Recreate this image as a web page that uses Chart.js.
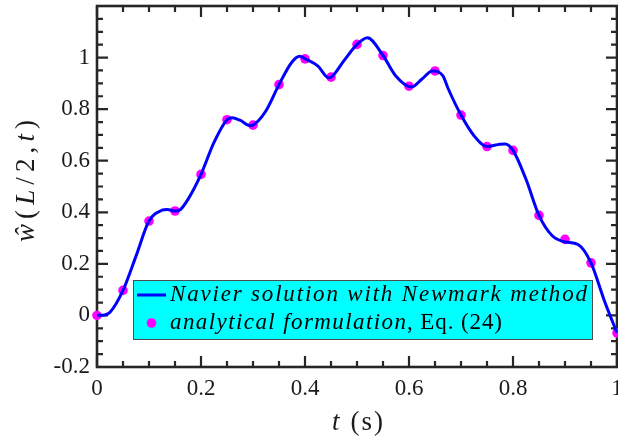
<!DOCTYPE html>
<html>
<head>
<meta charset="utf-8">
<script src="https://cdn.jsdelivr.net/npm/chart.js@4.4.0/dist/chart.umd.min.js"></script>
<style>
	html, body { margin: 0; padding: 0; background: #fff; }
</style>
</head>
<body>
<canvas id="myChart" width="618" height="441"></canvas>
<script>
// Navier solution (blue line)
const lineT = [0, 0.015, 0.025, 0.05, 0.075, 0.1, 0.125, 0.135, 0.15, 0.16, 0.175, 0.2, 0.225, 0.25, 0.26, 0.275, 0.295, 0.3,
	0.325, 0.35, 0.375, 0.39, 0.4, 0.425, 0.445, 0.45, 0.475, 0.5, 0.52, 0.55, 0.575, 0.605, 0.625, 0.645, 0.665, 0.675,
	0.7, 0.725, 0.75, 0.775, 0.785, 0.8, 0.825, 0.85, 0.875, 0.9, 0.925, 0.95, 0.975, 1]
const lineW = [0, 0.002, 0.012, 0.097, 0.23, 0.366, 0.408, 0.411, 0.405, 0.41, 0.45, 0.547, 0.671, 0.759, 0.767, 0.757, 0.736, 0.738,
	0.794, 0.895, 0.983, 1.005, 0.995, 0.967, 0.922, 0.924, 0.988, 1.051, 1.077, 1.008, 0.928, 0.886, 0.917, 0.948, 0.93, 0.881,
	0.777, 0.697, 0.655, 0.664, 0.665, 0.64, 0.528, 0.388, 0.31, 0.285, 0.275, 0.204, 0.061, -0.068]

// analytical formulation (magenta dots)
const pointT = [0, 0.05, 0.1, 0.15, 0.2, 0.25, 0.3, 0.35, 0.4, 0.45, 0.5, 0.55, 0.6, 0.65, 0.7, 0.75, 0.8, 0.85, 0.9, 0.95, 1]
const pointW = [0, 0.097, 0.366, 0.405, 0.547, 0.759, 0.738, 0.895, 0.995, 0.924, 1.051, 1.008, 0.889, 0.948, 0.777, 0.655, 0.64,
	0.388, 0.295, 0.204, -0.068]

const xTickVals = [0, 0.2, 0.4, 0.6, 0.8, 1]
const yTickVals = [-0.2, 0, 0.2, 0.4, 0.6, 0.8, 1]
const seriesLabels = ['Navier solution with Newmark method', 'analytical formulation, Eq. (24)']

const axisColor = '#262626'
const serif = "'Liberation Serif', serif"

const canvas = document.getElementById('myChart')

// draw italic / roman pieces char by char, spread to a given width, starting at x
function drawRich(ctx, parts, x, y, size, width) {
	const chars = []
	parts.forEach((p) => {
		const font = (p.it ? 'italic ' : '') + size + 'px ' + serif
		ctx.font = font
		for (const ch of p.t) chars.push({ ch, font, w: ctx.measureText(ch).width })
	})
	const natural = chars.reduce((acc, c) => acc + c.w, 0)
	const gap = width ? (width - natural) / (chars.length - 1) : 0
	let cx = x
	chars.forEach((c) => {
		ctx.font = c.font
		ctx.fillText(c.ch, cx, y)
		cx += c.w + gap
	})
}

// box + inward major/minor ticks on all four sides
const frame = {
	id: 'frame',
	beforeDatasetsDraw(chart) {
		const { ctx, chartArea: a, scales } = chart
		ctx.save()
		ctx.strokeStyle = axisColor
		ctx.lineWidth = 2.2
		ctx.beginPath()
		for (let k = 0; k <= 20; k++) {
			const px = scales.x.getPixelForValue(k * 0.05)
			const len = k % 4 === 0 ? 11 : 6
			ctx.moveTo(px, a.bottom); ctx.lineTo(px, a.bottom - len)
			ctx.moveTo(px, a.top); ctx.lineTo(px, a.top + len)
		}
		for (let k = -4; k <= 24; k++) {
			const py = scales.y.getPixelForValue(k * 0.05)
			const len = k % 4 === 0 ? 11 : 6
			ctx.moveTo(a.left, py); ctx.lineTo(a.left + len, py)
			ctx.moveTo(a.right, py); ctx.lineTo(a.right - len, py)
		}
		ctx.stroke()
		ctx.lineWidth = 2.6
		ctx.strokeRect(a.left, a.top, a.right - a.left, a.bottom - a.top)
		ctx.restore()
	},
	afterDraw(chart) {
		const { ctx, chartArea: a } = chart
		ctx.save()
		ctx.fillStyle = '#1a1a1a'
		ctx.textBaseline = 'middle'
		// x title
		drawRich(ctx, [{ t: 't', it: true }, { t: ' (s)' }], (a.left + a.right) / 2 - 25, 423, 27, 51)
		// y title
		ctx.translate(27, 181)
		ctx.rotate(-Math.PI / 2)
		drawRich(ctx, [{ t: 'ŵ', it: true }, { t: '(' }, { t: 'L', it: true }, { t: '/2,' }, { t: 't', it: true }, { t: ')' }], -61, 0, 27, 122)
		ctx.restore()

		// legend
		const ds = chart.data.datasets
		const bx = 133, by = 280, bw = 459, bh = 59
		ctx.save()
		ctx.fillStyle = '#00ffff'
		ctx.fillRect(bx, by, bw, bh)
		ctx.strokeStyle = '#4d4d4d'
		ctx.lineWidth = 1
		ctx.strokeRect(bx + 0.5, by + 0.5, bw, bh)
		const r1 = by + 15, r2 = by + 43
		ctx.strokeStyle = ds[0].borderColor
		ctx.lineWidth = ds[0].borderWidth
		ctx.beginPath(); ctx.moveTo(137, r1); ctx.lineTo(166, r1); ctx.stroke()
		ctx.fillStyle = ds[1].backgroundColor
		ctx.beginPath(); ctx.arc(151.5, r2, ds[1].pointRadius, 0, Math.PI * 2); ctx.fill()
		ctx.fillStyle = '#000'
		ctx.textBaseline = 'middle'
		ctx.textAlign = 'left'
		drawRich(ctx, [{ t: ds[0].label, it: true }], 170, r1, 23, 417)
		const parts = ds[1].label.split(',')
		drawRich(ctx, [{ t: parts[0], it: true }], 170, r2, 23, 236)
		drawRich(ctx, [{ t: ',' + parts[1] }], 407, r2, 23, 95)
		ctx.restore()
	},
}

const tickFont = { family: serif, size: 23 }

const config = {
	type: 'line',
	data: {
		datasets: [
			{
				label: seriesLabels[0],
				data: lineT.map((t, i) => ({ x: t, y: lineW[i] })),
				borderColor: '#0000ff',
				borderWidth: 3,
				pointRadius: 0,
				cubicInterpolationMode: 'monotone',
				clip: false,
			},
			{
				label: seriesLabels[1],
				data: pointT.map((t, i) => ({ x: t, y: pointW[i] })),
				showLine: false,
				backgroundColor: '#ff00ff',
				borderColor: '#ff00ff',
				borderWidth: 0,
				pointRadius: 4.8,
				clip: false,
			},
		],
	},
	options: {
		responsive: false,
		animation: false,
		layout: { autoPadding: false, padding: { top: 6, right: 1, left: 0, bottom: 0 } },
		plugins: { legend: { display: false }, tooltip: { enabled: false } },
		scales: {
			x: {
				type: 'linear',
				min: 0,
				max: 1,
				grid: { display: false, drawTicks: false },
				border: { display: false },
				ticks: {
					font: tickFont,
					color: '#1a1a1a',
					padding: 8,
					maxRotation: 0,
					autoSkip: false,
					callback: (v) => String(Math.round(v * 10) / 10),
				},
				afterBuildTicks: (s) => { s.ticks = xTickVals.map((v) => ({ value: v })) },
				afterFit: (s) => { s.height = 74; s.paddingLeft = 0; s.paddingRight = 0 },
			},
			y: {
				min: -0.2,
				max: 1.2,
				grid: { display: false, drawTicks: false },
				border: { display: false },
				ticks: {
					font: tickFont,
					color: '#1a1a1a',
					padding: 7,
					autoSkip: false,
					callback: (v) => String(Math.round(v * 10) / 10),
				},
				afterBuildTicks: (s) => { s.ticks = yTickVals.map((v) => ({ value: v })) },
				afterFit: (s) => { s.width = 97; s.paddingTop = 0; s.paddingBottom = 0 },
			},
		},
	},
	plugins: [frame],
}

const myChart = new Chart(canvas, config)
</script>
</body>
</html>
